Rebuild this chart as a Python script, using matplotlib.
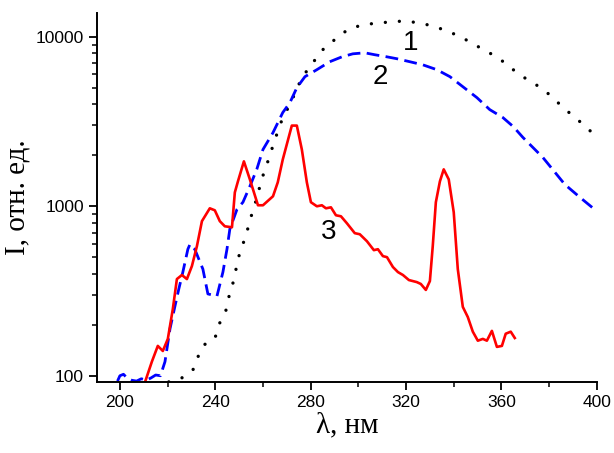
import matplotlib.pyplot as plt
from matplotlib.ticker import LogLocator, NullFormatter, MultipleLocator

# кривая 1 (чёрные точки)
wl1 = [220.5, 223, 225, 229, 230.6, 232.7, 235.2, 239.8, 241.5, 244.4, 245.7, 247.4, 249.9, 252, 253.7,
       255.3, 257, 258.7, 260.4, 262.5, 264.2, 266.2, 268.3, 271.3, 276.3, 280.9, 285.1, 291, 296,
       301.9, 308.2, 314, 319.5, 325.4, 331.2, 337.1, 343, 348.8, 354.3, 360.2, 366, 371.5, 377.4,
       382.4, 387.4, 392.9, 400]
I1 = [92, 94, 95, 104, 108, 129, 152, 165, 200, 241, 292, 352, 508, 622, 743,
      897, 1070, 1311, 1585, 1915, 2285, 2762, 3340, 3980, 5740, 7030, 8400, 9870, 11140,
      11770, 12080, 12250, 12420, 12080, 11600, 10840, 10000, 8970, 8160, 7230, 6230, 5510, 4940,
      4250, 3670, 3160, 2570]

# кривая 2 (синий пунктир)
wl2 = [199, 200, 201.5, 203, 205, 207, 209, 211, 213, 215, 217, 218.9, 221, 223.1, 224.7, 226.4,
       228.5, 229.4, 231.4, 234.8, 236.9, 240.7, 243.2, 244.9, 246.1, 249.1, 251.6, 254.5, 257.4,
       260, 264.2, 268.3, 271.3, 274.2, 277.6, 282.6, 288, 293.1, 297.7, 302.7, 306.9, 312, 316.1,
       321.6, 327, 332.9, 338.4, 343.8, 349.7, 355.1, 360.6, 365, 369, 377.4, 386.6, 392.9, 400]
I2 = [93, 100, 102, 97, 94, 93, 96, 94, 97, 101, 100, 121, 189, 258, 325, 409,
      558, 597, 558, 426, 304, 295, 409, 558, 733, 960, 1057, 1311, 1652,
      2163, 2720, 3575, 4090, 5010, 5820, 6400, 7130, 7620, 7940, 8050, 7840, 7620, 7430,
      7130, 6840, 6400, 5820, 5080, 4380, 3720, 3340, 2950, 2550, 1940, 1345, 1130, 935]

# кривая 3 (красная)
wl3 = [210.1, 213.4, 215.9, 218, 220.1, 222.2, 223.9, 226, 228.1, 230.2, 232.3, 234.4, 237.7, 239.8,
       241.9, 244, 247, 248.2, 249.5, 252, 254.5, 257.9, 260, 264.2, 266.2, 268.3, 272.1, 274.2,
       276.3, 278.4, 280.1, 282.6, 284.7, 286.4, 288.5, 290.6, 292.7, 295.2, 298.5, 300.6, 303.6,
       306.5, 308.2, 310.3, 312, 314.5, 316.6, 318.7, 321.2, 324.5, 326.2, 328.3, 330, 331.2, 332.5,
       334.2, 335.8, 337.9, 340, 341.7, 343.8, 345.9, 348, 350.1, 352.2, 353.9, 356, 358.1, 360.2,
       361.8, 363.9, 365.6]
I3 = [88, 121, 150, 140, 165, 248, 372, 393, 372, 444, 582, 817, 973, 947,
      817, 762, 752, 1208, 1403, 1841, 1442, 1014, 1014, 1146, 1384, 1888, 2994, 2994,
      2163, 1384, 1057, 1000, 1014, 973, 986, 885, 873, 794, 694, 684, 622,
      551, 558, 508, 501, 438, 409, 393, 367, 357, 348, 321, 362, 582, 1057,
      1403, 1652, 1442, 922, 426, 255, 222, 182, 161, 165, 161, 184, 148, 150,
      177, 182, 167]

xticks = [200, 240, 280, 320, 360, 400]
yticks = [100, 1000, 10000]

fig = plt.figure(figsize=(6.14, 4.53), dpi=100)
ax = fig.add_axes([0.158, 0.157, 0.814, 0.814])

ax.plot(wl1, I1, color='black', lw=2.4, linestyle=(0, (0.01, 4.2)), dash_capstyle='round')
ax.plot(wl2, I2, color='#0000ff', lw=2.0, linestyle=(0, (4.6, 2.3)))
ax.plot(wl3, I3, color='#ff0000', lw=1.9)

ax.set_yscale('log')
ax.set_xlim(190.4, 400)
ax.set_ylim(92, 13800)
ax.set_xticks(xticks)
ax.set_xticklabels([str(v) for v in xticks])
ax.xaxis.set_minor_locator(MultipleLocator(20))
ax.set_yticks(yticks)
ax.set_yticklabels([str(v) for v in yticks])
ax.yaxis.set_minor_locator(LogLocator(base=10, subs=range(2, 10)))
ax.yaxis.set_minor_formatter(NullFormatter())

for s in ['top', 'right']:
    ax.spines[s].set_visible(False)
for s in ['left', 'bottom']:
    ax.spines[s].set_linewidth(1.4)
ax.tick_params(which='major', direction='out', length=6, width=1.3, labelsize=12.5)
ax.tick_params(which='minor', direction='out', length=3.5, width=1.1)
for lab in ax.get_xticklabels() + ax.get_yticklabels():
    lab.set_family('Liberation Sans')

ax.set_xlabel('λ, нм', family='Liberation Serif', fontsize=21, labelpad=2)
ax.set_ylabel('I, отн. ед.', family='Liberation Serif', fontsize=21, labelpad=4)

# номера кривых
ax.text(321.8, 9220, '1', fontsize=20, family='Liberation Sans', ha='center', va='center')
ax.text(309.4, 5800, '2', fontsize=20, family='Liberation Sans', ha='center', va='center')
ax.text(287.6, 703, '3', fontsize=20, family='Liberation Sans', ha='center', va='center')

fig.savefig('out.png', dpi=100)
